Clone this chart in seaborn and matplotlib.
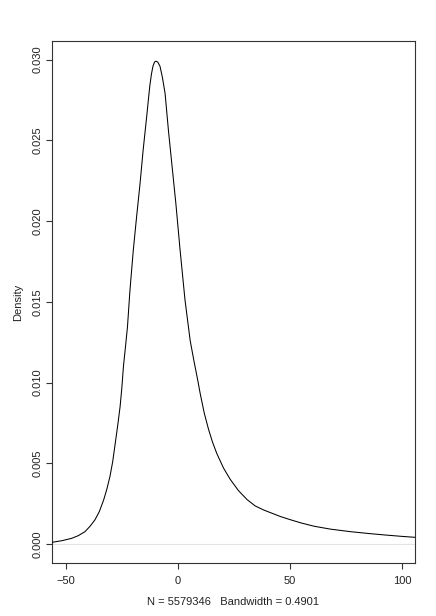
import matplotlib
matplotlib.use("Agg")
import matplotlib.pyplot as plt
import pandas as pd
import seaborn as sns

# density curve (x value, density)
x_vals = [-56.5, -52.0, -47.5, -44.5, -41.6, -39.3, -37.1, -35.2, -33.3, -31.8,
          -30.4, -29.2, -28.1, -27.0, -25.9, -25.1, -24.4, -23.5, -22.6, -21.5,
          -20.0, -18.5, -17.0, -15.6, -14.0, -13.2, -12.6, -11.9, -11.2, -10.5,
          -9.9, -9.1, -8.1, -7.0, -5.8, -4.3, -2.1, -1.0, 0.9, 3.1,
          5.4, 7.0, 8.7, 9.9, 11.7, 13.6, 15.4, 17.3, 20.3, 23.3,
          27.0, 30.8, 34.5, 38.3, 45.7, 50.2, 55.0, 60.7, 68.0, 77.1,
          85.0, 92.1, 100.0, 106.0]
dens_vals = [0.0001, 0.0002, 0.00035, 0.00052, 0.00076, 0.0011, 0.0015, 0.0020, 0.0027, 0.0034,
             0.0042, 0.0051, 0.0062, 0.0073, 0.0085, 0.0097, 0.0110, 0.0122, 0.01345, 0.0157,
             0.0182, 0.0203, 0.0223, 0.0244, 0.0265, 0.0276, 0.0284, 0.0291, 0.0296, 0.02985,
             0.0299, 0.02985, 0.0296, 0.0289, 0.0279, 0.0256, 0.0226, 0.0211, 0.0182, 0.0151,
             0.0126, 0.0114, 0.0102, 0.0093, 0.0081, 0.0071, 0.0063, 0.0056, 0.0047, 0.0040,
             0.0033, 0.00275, 0.00235, 0.0021, 0.0017, 0.0015, 0.0013, 0.0011, 0.00092, 0.00076,
             0.00065, 0.00056, 0.00047, 0.00041]
x_ticks = [-50, 0, 50, 100]
y_ticks = [0.0, 0.005, 0.010, 0.015, 0.020, 0.025, 0.030]
subtitle = "N = 5579346   Bandwidth = 0.4901"

df = pd.DataFrame({"x": x_vals, "density": dens_vals})

sns.set_style("ticks")
plt.rcParams["font.family"] = ["Liberation Sans", "DejaVu Sans"]

fig = plt.figure(figsize=(4.36, 6.16), dpi=100)
ax = fig.add_axes([0.1193, 0.0860, 0.8325, 0.8474])

ax.axhline(0, color="#e3e3e3", lw=0.8, zorder=1)
sns.lineplot(data=df, x="x", y="density", ax=ax, color="black", lw=0.75,
             sort=True, estimator=None, zorder=3)

ax.set_xlim(-56.3, 105.8)
ax.set_ylim(-0.00118, 0.03115)
ax.set_xticks(x_ticks)
ax.set_xticklabels([str(t).replace("-", "\u2212") for t in x_ticks])
ax.set_yticks(y_ticks)
ax.set_yticklabels([f"{t:.3f}" for t in y_ticks], rotation=90, va="center")
ax.tick_params(axis="both", length=4, width=0.8, color="#333333", labelsize=8,
               labelcolor="#222222")
ax.tick_params(axis="x", pad=5)
ax.tick_params(axis="y", pad=3)

for s in ax.spines.values():
    s.set_visible(True)
    s.set_linewidth(0.8)
    s.set_color("#333333")

ax.set_xlabel(subtitle, fontsize=8, color="#222222", labelpad=8.5)
ax.set_ylabel("Density", fontsize=8, color="#222222", labelpad=6.5)

fig.savefig("out.png", dpi=100)
